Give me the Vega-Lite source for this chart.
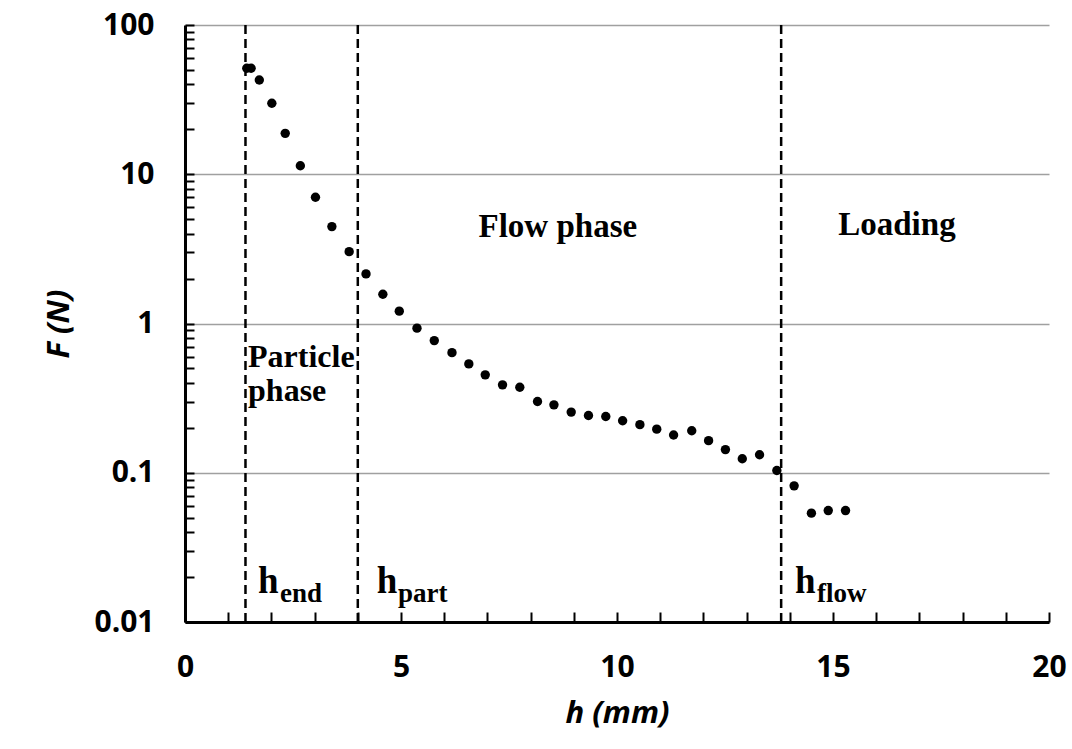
{
  "$schema": "https://vega.github.io/schema/vega-lite/v6.json",
  "width": 864,
  "height": 597,
  "autosize": "none",
  "padding": {"left": 185, "top": 25, "right": 23, "bottom": 127},
  "background": "white",
  "config": {
    "view": {"stroke": null},
    "axis": {
      "domainColor": "black",
      "domainWidth": 3,
      "tickColor": "black",
      "tickWidth": 2,
      "labelFont": "Open Sans",
      "labelFontWeight": "bold",
      "labelFontSize": 30,
      "labelColor": "black",
      "titleFont": "Open Sans",
      "titleFontWeight": "bold",
      "titleFontStyle": "italic",
      "titleFontSize": 31,
      "titleColor": "black"
    }
  },
  "datasets": {
    "force": [
      {"h": 1.43, "F": 51.3},
      {"h": 1.53, "F": 51.3},
      {"h": 1.72, "F": 42.8},
      {"h": 2.01, "F": 29.9},
      {"h": 2.32, "F": 18.8},
      {"h": 2.67, "F": 11.4},
      {"h": 3.02, "F": 7.01},
      {"h": 3.40, "F": 4.46},
      {"h": 3.80, "F": 3.03},
      {"h": 4.19, "F": 2.15},
      {"h": 4.58, "F": 1.57},
      {"h": 4.96, "F": 1.21},
      {"h": 5.37, "F": 0.931},
      {"h": 5.77, "F": 0.768},
      {"h": 6.18, "F": 0.638},
      {"h": 6.57, "F": 0.536},
      {"h": 6.95, "F": 0.453},
      {"h": 7.35, "F": 0.388},
      {"h": 7.75, "F": 0.374},
      {"h": 8.16, "F": 0.300},
      {"h": 8.54, "F": 0.285},
      {"h": 8.94, "F": 0.255},
      {"h": 9.34, "F": 0.242},
      {"h": 9.74, "F": 0.238},
      {"h": 10.13, "F": 0.223},
      {"h": 10.53, "F": 0.210},
      {"h": 10.92, "F": 0.196},
      {"h": 11.31, "F": 0.179},
      {"h": 11.73, "F": 0.191},
      {"h": 12.12, "F": 0.164},
      {"h": 12.51, "F": 0.143},
      {"h": 12.90, "F": 0.124},
      {"h": 13.30, "F": 0.132},
      {"h": 13.70, "F": 0.1035},
      {"h": 14.10, "F": 0.0817},
      {"h": 14.50, "F": 0.0536},
      {"h": 14.89, "F": 0.0558},
      {"h": 15.29, "F": 0.0558}
    ],
    "bounds": [
      {"h": 1.4},
      {"h": 4.0},
      {"h": 13.8}
    ],
    "phasesLeft": [
      {"h": 1.46, "F": 0.512, "text": "Particle"},
      {"h": 1.46, "F": 0.303, "text": "phase"}
    ],
    "phasesCenter": [
      {"h": 8.63, "F": 3.8, "text": "Flow phase"},
      {"h": 16.48, "F": 3.9, "text": "Loading"}
    ],
    "hmain": [
      {"h": 1.69, "F": 0.0157, "text": "h"},
      {"h": 4.44, "F": 0.0157, "text": "h"},
      {"h": 14.12, "F": 0.0157, "text": "h"}
    ],
    "hsub": [
      {"h": 2.2, "F": 0.0136, "text": "end"},
      {"h": 4.93, "F": 0.0136, "text": "part"},
      {"h": 14.63, "F": 0.0136, "text": "flow"}
    ]
  },
  "layer": [
    {
      "data": {"name": "force"},
      "mark": {"type": "point", "filled": true, "color": "black", "size": 88, "opacity": 1, "shape": "circle"},
      "encoding": {
        "x": {
          "field": "h", "type": "quantitative",
          "scale": {"domain": [0, 20], "nice": false, "zero": false},
          "axis": {
            "title": "h (mm)",
            "values": [0,1,2,3,4,5,6,7,8,9,10,11,12,13,14,15,16,17,18,19,20],
            "labelExpr": "datum.value % 5 == 0 ? datum.label : ''",
            "grid": false,
            "tickSize": -10,
            "labelPadding": 40,
            "titlePadding": 16,
            "labelFlush": false,
            "labelOverlap": false
          }
        },
        "y": {
          "field": "F", "type": "quantitative",
          "scale": {"type": "log", "domain": [0.01, 100], "nice": false},
          "axis": {
            "title": "F (N)",
            "values": [0.01,0.02,0.03,0.04,0.05,0.06,0.07,0.08,0.09,0.1,0.2,0.3,0.4,0.5,0.6,0.7,0.8,0.9,1,2,3,4,5,6,7,8,9,10,20,30,40,50,60,70,80,90,100],
            "labelExpr": "abs(log(datum.value)/LN10 - round(log(datum.value)/LN10)) < 0.001 ? format(datum.value, '~g') : ''",
            "grid": true,
            "gridColor": "#a0a0a0",
            "gridWidth": 1.5,
            "gridOpacity": {"condition": {"test": "abs(log(datum.value)/LN10 - round(log(datum.value)/LN10)) < 0.001", "value": 1}, "value": 0},
            "tickSize": -9,
            "labelPadding": 40,
            "titlePadding": 18,
            "labelOverlap": false,
            "labelFlush": false
          }
        }
      }
    },
    {
      "data": {"name": "bounds"},
      "mark": {"type": "rule", "color": "black", "strokeWidth": 2.5, "strokeDash": [9, 5]},
      "encoding": {"x": {"field": "h", "type": "quantitative"}}
    },
    {
      "data": {"name": "phasesLeft"},
      "mark": {"type": "text", "font": "Liberation Serif", "fontWeight": "bold", "fontSize": 32, "color": "black", "baseline": "alphabetic", "align": "left"},
      "encoding": {
        "x": {"field": "h", "type": "quantitative"},
        "y": {"field": "F", "type": "quantitative"},
        "text": {"field": "text"}
      }
    },
    {
      "data": {"name": "phasesCenter"},
      "mark": {"type": "text", "font": "Liberation Serif", "fontWeight": "bold", "fontSize": 33, "color": "black", "baseline": "alphabetic", "align": "center"},
      "encoding": {
        "x": {"field": "h", "type": "quantitative"},
        "y": {"field": "F", "type": "quantitative"},
        "text": {"field": "text"}
      }
    },
    {
      "data": {"name": "hmain"},
      "mark": {"type": "text", "font": "Liberation Serif", "fontWeight": "bold", "fontSize": 37, "color": "black", "baseline": "alphabetic", "align": "left"},
      "encoding": {
        "x": {"field": "h", "type": "quantitative"},
        "y": {"field": "F", "type": "quantitative"},
        "text": {"field": "text"}
      }
    },
    {
      "data": {"name": "hsub"},
      "mark": {"type": "text", "font": "Liberation Serif", "fontWeight": "bold", "fontSize": 27, "color": "black", "baseline": "alphabetic", "align": "left"},
      "encoding": {
        "x": {"field": "h", "type": "quantitative"},
        "y": {"field": "F", "type": "quantitative"},
        "text": {"field": "text"}
      }
    }
  ]
}
